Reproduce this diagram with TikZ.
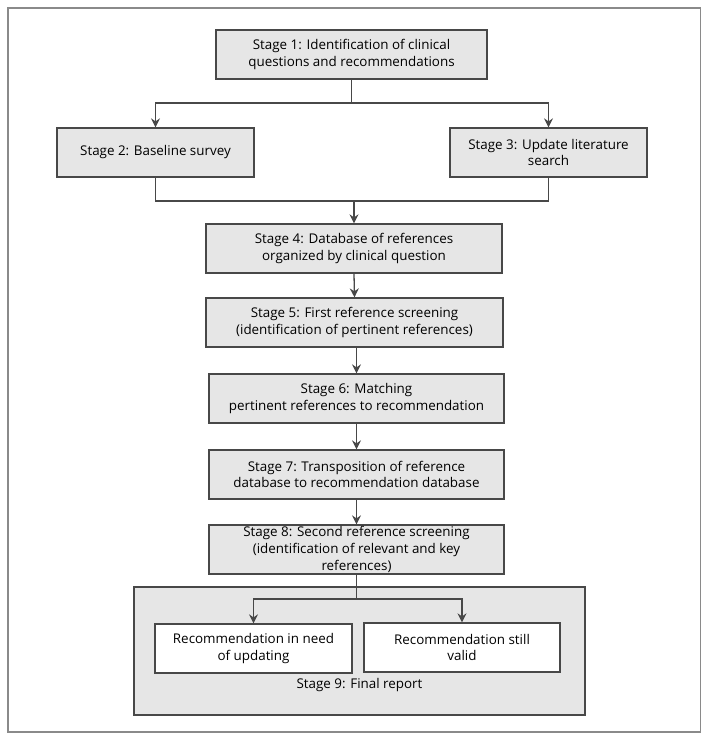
\documentclass[tikz,border=0pt]{standalone}
\usepackage{fontspec}
\setmainfont{Open Sans}
\usetikzlibrary{arrows.meta}
\definecolor{boxfill}{HTML}{E6E6E6}
\definecolor{boxline}{HTML}{484848}
\definecolor{framecol}{HTML}{8A8A8A}
\begin{document}
\begin{tikzpicture}[x=1pt,y=-1pt,
  stagebox/.style={draw=boxline,fill=boxfill,line width=1.3pt,minimum height=49pt,inner sep=0pt,align=center,font=\fontsize{13.4}{16.7}\selectfont},
  whitebox/.style={stagebox,fill=white},
  conn/.style={draw=boxline,line width=1.3pt},
  arr/.style={conn,-{Stealth[length=9pt,width=9pt,inset=3pt]}}]
\useasboundingbox (0,0) rectangle (709,740);
\draw[framecol,line width=1.3pt] (8,8) rectangle (700.5,732);
\node[stagebox,minimum width=271pt] (s1) at (351.5,54.5) {Stage 1: Identification of clinical\\questions and recommendations};
\node[stagebox,minimum width=197pt] (s2) at (155.5,152.5) {Stage 2: Baseline survey};
\node[stagebox,minimum width=197pt] (s3) at (548.5,152.5) {Stage 3: Update literature\\search};
\node[stagebox,minimum width=296pt] (s4) at (354,248.5) {Stage 4: Database of references\\organized by clinical question};
\node[stagebox,minimum width=297pt] (s5) at (354.5,322.5) {Stage 5: First reference screening\\(identification of pertinent references)};
\node[stagebox,minimum width=295pt] (s6) at (356.5,398.5) {Stage 6: Matching\\pertinent references to recommendation};
\node[stagebox,minimum width=295pt] (s7) at (356.5,474.5) {Stage 7: Transposition of reference\\database to recommendation database};
\node[stagebox,minimum width=295pt] (s8) at (356.5,549.5) {Stage 8: Second reference screening\\(identification of relevant and key\\references)};
\node[stagebox,minimum width=451pt,minimum height=128pt] (s9) at (359.5,651) {};
\node[font=\fontsize{13.4}{16.7}\selectfont,anchor=base] (s9t) at (359.5,688.5) {Stage 9: Final report};
\node[whitebox,minimum width=197pt] (r1) at (253.5,648.5) {Recommendation in need\\of updating};
\node[whitebox,minimum width=196pt] (r2) at (462,647.5) {Recommendation still\\valid};
% connectors
\coordinate (j1) at (351.5,103);
\coordinate (j2) at (354,201);
\coordinate (j3) at (356.5,599);
\draw[conn] (s1.south) -- (j1);
\draw[arr] (j1) -| (s2.north);
\draw[arr] (j1) -| (s3.north);
\draw[conn] (s2.south) |- (j2);
\draw[conn] (s3.south) |- (j2);
\draw[arr] (j2) -- (s4.north);
\draw[arr] (s4.south) -- (s5.north);
\draw[arr] (s5.south -| s6.north) -- (s6.north);
\draw[arr] (s6.south) -- (s7.north);
\draw[arr] (s7.south) -- (s8.north);
\draw[conn] (s8.south) -- (j3);
\draw[arr] (j3) -| (r1.north);
\draw[arr] (j3) -| (r2.north);
\end{tikzpicture}
\end{document}
